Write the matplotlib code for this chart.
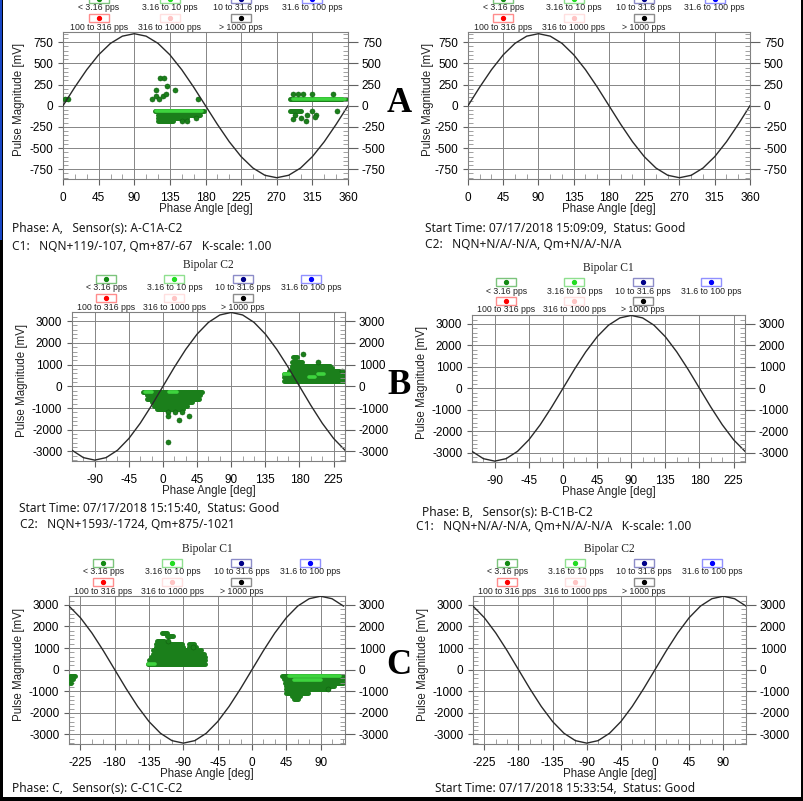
import matplotlib
matplotlib.use("Agg")
import matplotlib.pyplot as plt
from matplotlib.patches import Rectangle
from matplotlib.transforms import Affine2D
from matplotlib.ticker import MultipleLocator

plt.rcParams['axes.unicode_minus'] = False
plt.rcParams['font.family'] = 'Liberation Sans'

W, H = 804, 801

# reference sine (mV), every 15 deg
A_phase = list(range(0, 361, 15))
A_ref = [0, 220, 425, 601, 736, 821, 850, 821, 736, 601, 425, 220, 0,
         -220, -425, -601, -736, -821, -850, -821, -736, -601, -425, -220, 0]
B_phase = list(range(-120, 241, 15))
B_ref = [-2944, -3284, -3400, -3284, -2944, -2404, -1700, -880, 0, 880, 1700, 2404, 2944,
         3284, 3400, 3284, 2944, 2404, 1700, 880, 0, -880, -1700, -2404, -2944]
C_phase = list(range(-240, 121, 15))
C_ref = [2944, 2404, 1700, 880, 0, -880, -1700, -2404, -2944, -3284, -3400, -3284, -2944,
         -2404, -1700, -880, 0, 880, 1700, 2404, 2944, 3284, 3400, 3284, 2944]

# PD pulse bands (level mV, from deg, to deg) - dark green
A_rows_level = [82, -67, -110, -150, -180, -67]
A_rows_start = [287, 116, 120, 120, 120, 287]
A_rows_end = [358, 178, 173, 156, 139, 301]
A_light_level = [82, -67]
A_light_start = [290, 118]
A_light_end = [356, 176]
A_dot_phase = [2, 6, 123, 128, 131, 141, 118, 113, 118, 121, 126, 130, 171, 150, 156, 168,
               290, 297, 303, 314, 341, 314, 346, 293, 308, 320, 291, 301, 307, 318]
A_dot_mag = [82, 82, 330, 330, 227, 180, 180, 82, 110, 82, 110, 137, 82, -180, -180, -150,
             137, 137, 137, 137, 137, -67, -67, -113, -113, -113, -160, -150, -180, -130]

B_rows_level = [-265, -420, -580, -735, -890, -1050, 1340, 1140, 940, 830, 700, 560, 405, 250]
B_rows_start = [-26, -21, -21, -14, -12, -8, 171, 170, 170, 170, 166, 159, 159, 159]
B_rows_end = [52, 49, 48, 38, 31, 27, 177, 183, 220, 223, 232, 240, 240, 240]
B_light_level = [-265, -265, 560, 560, 405]
B_light_start = [-24, 8, 160, 205, 192]
B_light_end = [-15, 18, 168, 212, 200]
B_dot_phase = [7, 16, 25, 7, 34, 21, 7, 185, 205, 236]
B_dot_mag = [-1200, -1200, -1200, -1360, -1360, -1550, -2560, 1500, 1140, 700]

C_rows_level = [1690, 1540, 1320, 1170, 1170, 1050, 1050, 890, 740, 585, 585, 430, 280,
                -290, -450, -600, -290, -450, -600, -750, -910, -1060, -1220, -1370]
C_rows_start = [-118, -111, -124, -126, -82, -126, -82, -130, -130, -132, -66, -135, -137,
                -239, -239, -239, 40, 42, 43, 44, 45, 45, 53, 55]
C_rows_end = [-111, -104, -115, -92, -76, -90, -74, -67, -63, -70, -61, -61, -61,
              -232, -235, -238, 119, 119, 119, 108, 100, 74, 63, 61]
C_light_level = [280, -290, -480]
C_light_start = [-136, 48, 55]
C_light_end = [-127, 116, 90]
C_dot_phase = [-110, -78, 100]
C_dot_mag = [1320, 1050, -910]

legend_labels = [["< 3.16 pps", "3.16 to 10 pps", "10 to 31.6 pps", "31.6 to 100 pps"],
                 ["100 to 316 pps", "316 to 1000 pps", "> 1000 pps"]]
legend_dots = [["#138a13", "#22dd22", "#000088", "#0000ff"], ["#ff0000", "#ffc4c4", "#000000"]]
legend_edges = [["#7cc47c", "#8fe08f", "#8c8cc8", "#9090ff"], ["#ff8c8c", "#ffe0e0", "#8c8c8c"]]

DARK = "#1b7f1b"
LIGHT = "#3ed43e"

fig = plt.figure(figsize=(W / 100, H / 100), dpi=100)
px = Affine2D().scale(1 / W, -1 / H).translate(0, 1) + fig.transFigure


def draw_panel(box, xlim, ylim, ystep, yminor, phase, ref, ylab_dx, title=None,
               rows=None, light=None, dots=None):
    l, t, r, b = box
    ax = fig.add_axes([l / W, 1 - b / H, (r - l) / W, (b - t) / H])
    ax.set_xlim(*xlim)
    ax.set_ylim(*ylim)
    ax.xaxis.set_major_locator(MultipleLocator(45))
    ax.xaxis.set_minor_locator(MultipleLocator(15))
    ax.yaxis.set_major_locator(MultipleLocator(ystep))
    ax.yaxis.set_minor_locator(MultipleLocator(yminor))
    ax.grid(True, which='major', color='#858585', lw=0.7, zorder=0)
    ax.set_axisbelow(True)
    for s in ax.spines.values():
        s.set_color('#808080')
        s.set_linewidth(0.8)
    ax.tick_params(axis='x', which='major', direction='out', length=4.5, pad=5,
                   labelsize=8.5, color='#606060')
    ax.tick_params(axis='x', which='minor', direction='in', length=3.5, color='#909090')
    ax.tick_params(axis='y', which='major', direction='out', length=3.5, pad=3.5,
                   labelsize=8.5, color='#606060')
    ax.tick_params(axis='y', which='minor', direction='in', length=3.5, color='#909090')

    ax2 = ax.twinx()
    ax2.set_ylim(*ylim)
    ax2.yaxis.set_major_locator(MultipleLocator(ystep))
    ax2.yaxis.set_minor_locator(MultipleLocator(yminor))
    ax2.tick_params(axis='y', which='major', direction='out', length=7, pad=3,
                    labelsize=8.5, color='#606060')
    ax2.tick_params(axis='y', which='minor', direction='in', length=3.5, color='#909090')
    for s in ax2.spines.values():
        s.set_visible(False)

    if rows is not None:
        ax.hlines(rows[0], rows[1], rows[2], colors=DARK, lw=3.6, capstyle='round', zorder=3)
    if light is not None:
        ax.hlines(light[0], light[1], light[2], colors=LIGHT, lw=2.6, capstyle='round', zorder=4)
    if dots is not None:
        ax.scatter(dots[0], dots[1], s=13, color=DARK, edgecolors='#0f5f0f', linewidths=0.4, zorder=4)
    ax.plot(phase, ref, color='#2a2a2a', lw=1.0, zorder=5)

    # axis labels
    fig.text((l + r) / 2, b + 30, 'Phase Angle [deg]', transform=px, ha='center',
             va='center', fontsize=8.3, color='#222222')
    fig.text(l - ylab_dx, (t + b) / 2 - 6, 'Pulse Magnitude [mV]', transform=px, rotation=90,
             ha='center', va='center', fontsize=8.3, color='#222222')

    # pps legend above the plot
    wdt = r - l
    fr = [0.125, 0.375, 0.625, 0.875]
    for row in range(2):
        ybox = t - 33 + row * 19
        for k, lab in enumerate(legend_labels[row]):
            cx = l + fr[k] * wdt
            fig.add_artist(Rectangle((cx - 10, ybox - 4), 20, 8, transform=px, fc='white',
                                     ec=legend_edges[row][k], lw=1.0))
            fig.add_artist(plt.Line2D([cx], [ybox], transform=px, marker='o', ms=2.8,
                                      color=legend_dots[row][k], lw=0))
            fig.text(cx, ybox + 9, lab, transform=px, ha='center', va='center',
                     fontsize=6.3, color='#222222')
    if title:
        fig.text((l + r) / 2, t - 47, title, transform=px, ha='center', va='center',
                 fontsize=8.3, family='Liberation Serif', color='#222222')
    return ax


draw_panel((63, 32, 348, 179), (0, 360), (-865, 870), 250, 50, A_phase, A_ref, 44,
           rows=(A_rows_level, A_rows_start, A_rows_end),
           light=(A_light_level, A_light_start, A_light_end),
           dots=(A_dot_phase, A_dot_mag))
draw_panel((468, 32, 750, 179), (0, 360), (-865, 870), 250, 50, A_phase, A_ref, 40)
draw_panel((72, 312, 345, 461), (-120, 240), (-3440, 3420), 1000, 200, B_phase, B_ref, 50,
           title='Bipolar C2',
           rows=(B_rows_level, B_rows_start, B_rows_end),
           light=(B_light_level, B_light_start, B_light_end),
           dots=(B_dot_phase, B_dot_mag))
draw_panel((472, 315, 745, 462), (-120, 240), (-3440, 3420), 1000, 200, B_phase, B_ref, 50,
           title='Bipolar C1')
draw_panel((69, 596, 345, 744), (-240, 122), (-3440, 3410), 1000, 200, C_phase, C_ref, 50,
           title='Bipolar C1',
           rows=(C_rows_level, C_rows_start, C_rows_end),
           light=(C_light_level, C_light_start, C_light_end),
           dots=(C_dot_phase, C_dot_mag))
draw_panel((473, 596, 746, 744), (-240, 120), (-3440, 3410), 1000, 200, C_phase, C_ref, 50,
           title='Bipolar C2')

# status lines under the plots
info = [
    (12, 229, "Phase: A,   Sensor(s): A-C1A-C2"),
    (12, 246, "C1:   NQN+119/-107, Qm+87/-67   K-scale: 1.00"),
    (425, 228, "Start Time: 07/17/2018 15:09:09,  Status: Good"),
    (425, 245, "C2:   NQN+N/A/-N/A, Qm+N/A/-N/A"),
    (19, 509, "Start Time: 07/17/2018 15:15:40,  Status: Good"),
    (20, 525, "C2:   NQN+1593/-1724, Qm+875/-1021"),
    (422, 512, "Phase: B,   Sensor(s): B-C1B-C2"),
    (416, 527, "C1:   NQN+N/A/-N/A, Qm+N/A/-N/A   K-scale: 1.00"),
    (12, 788, "Phase: C,   Sensor(s): C-C1C-C2"),
    (435, 788, "Start Time: 07/17/2018 15:33:54,  Status: Good"),
]
for x, y, s in info:
    fig.text(x, y, s, transform=px, ha='left', va='center', fontsize=8.6,
             family='Noto Sans', color='#1a1a1a')

# big phase letters
for y, s in [(103, 'A'), (385, 'B'), (665, 'C')]:
    fig.text(399, y, s, transform=px, ha='center', va='center', fontsize=25,
             family='Liberation Serif', weight='bold', color='black')

# frame of the screenshot
fig.add_artist(Rectangle((0, 0), 3.4, H, transform=px, fc='black', ec='none', zorder=20))
fig.add_artist(Rectangle((0, 0), 2.2, 240, transform=px, fc='#1746c4', ec='none', zorder=21))
fig.add_artist(Rectangle((800.6, 0), 3.4, H, transform=px, fc='black', ec='none', zorder=20))
fig.add_artist(Rectangle((0, 797), W, 4, transform=px, fc='black', ec='none', zorder=20))

fig.savefig('out.png', dpi=100)
